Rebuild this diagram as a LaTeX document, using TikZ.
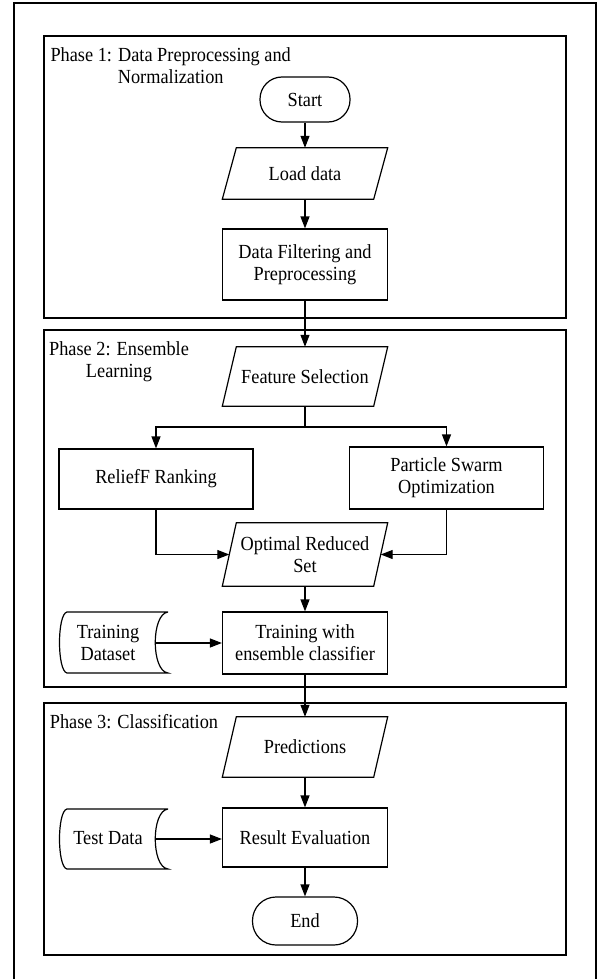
\documentclass[tikz,border=0pt]{standalone}
\usepackage{fontspec}
\setmainfont[FakeStretch=0.915]{Liberation Serif}
\usetikzlibrary{arrows.meta}
\newcommand\fs{\fontsize{20}{22}\selectfont}
\newcommand\drawpara[1]{\draw[line] ([xshift=7pt]#1.north west) -- ([xshift=7pt]#1.north east) -- ([xshift=-7pt]#1.south east) -- ([xshift=-7pt]#1.south west) -- cycle;}
\begin{document}
\begin{tikzpicture}[x=1pt,y=-1pt,
  line/.style={line width=1.2pt, draw=black},
  arr/.style={line, -{Triangle[width=9pt,length=12pt]}},
  proc/.style={line, rectangle, inner sep=0pt, align=center, font=\fs},
  term/.style={line, rectangle, inner sep=0pt, align=center, font=\fs},
  io/.style={rectangle, inner sep=0pt, align=center, font=\fs},
  store/.style={rectangle, inner sep=0pt, align=center, font=\fs},
  ptitle/.style={inner sep=0pt, align=center, font=\fs}]
\useasboundingbox (0,0) rectangle (597,979);
% outer frame and phases
\draw[line] (14,3) rectangle (596,995);
\draw[line] (44,36) rectangle (566,318);
\draw[line] (44,330) rectangle (566,687);
\draw[line] (44,703) rectangle (566,955);
\node[ptitle] (t1) at (170.7,66) {Phase 1: Data Preprocessing and\\Normalization};
\node[ptitle] (t2) at (119,361.5) {Phase 2: Ensemble\\Learning};
\node[ptitle] (t3) at (134,722) {Phase 3: Classification};
% nodes
\node[term, rounded corners=22pt, minimum width=90pt, minimum height=45pt] (start) at (305,99.5) {Start};
\node[io, minimum width=151pt, minimum height=51pt] (load) at (305,173.5) {Load data};
\drawpara{load}
\node[proc, minimum width=165pt, minimum height=71pt] (filt) at (305,264.5) {Data Filtering and\\Preprocessing};
\node[io, minimum width=151pt, minimum height=59pt] (feat) at (305,376.5) {Feature Selection};
\drawpara{feat}
\node[proc, minimum width=194pt, minimum height=60pt] (relief) at (156,479) {ReliefF Ranking};
\node[proc, minimum width=194pt, minimum height=62pt] (pso) at (446.5,478) {Particle Swarm\\Optimization};
\node[io, minimum width=151pt, minimum height=63pt] (ors) at (305,554.5) {Optimal Reduced\\Set};
\drawpara{ors}
\node[proc, minimum width=165pt, minimum height=62pt] (train) at (305,643) {Training with\\ensemble classifier};
\node[store] (tds) at (108,643) {Training\\Dataset};
\draw[line] (168,612) -- (67,612) .. controls (57,614) and (57,671) .. (67,673) -- (168,673) .. controls (151,671) and (151,614) .. (168,612);
\coordinate (tdsr) at (155.2,643);
\node[io, minimum width=151pt, minimum height=60pt] (pred) at (305,747) {Predictions};
\drawpara{pred}
\node[proc, minimum width=165pt, minimum height=59pt] (result) at (305,837.5) {Result Evaluation};
\node[store] (testd) at (108,838.5) {Test Data};
\draw[line] (168,809) -- (67,809) .. controls (57,811) and (57,867) .. (67,869) -- (168,869) .. controls (151,867) and (151,811) .. (168,809);
\coordinate (testr) at (155.2,839);
\node[term, rounded corners=23.5pt, minimum width=105pt, minimum height=48pt] (end) at (305,921) {End};
% connectors
\coordinate (split) at (305,427);
\draw[arr] (start) -- (load);
\draw[arr] (load) -- (filt);
\draw[arr] (filt) -- (feat);
\draw[line] (feat.south) -- (split);
\draw[arr] (split) -| (relief.north);
\draw[arr] (split) -| (pso.north);
\draw[arr] (relief.south) |- (ors.west);
\draw[arr] (pso.south) |- (ors.east);
\draw[arr] (ors) -- (train);
\draw[arr] (tdsr) -- (tdsr -| train.west);
\draw[arr] (train) -- (pred);
\draw[arr] (pred) -- (result);
\draw[arr] (testr) -- (testr -| result.west);
\draw[arr] (result) -- (end);
\end{tikzpicture}
\end{document}
